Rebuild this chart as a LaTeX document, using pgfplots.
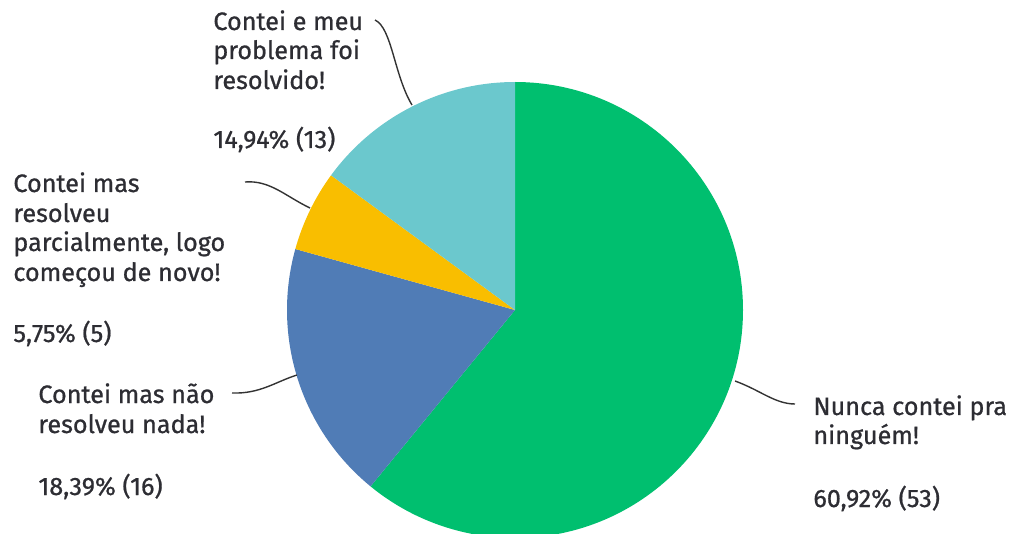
\documentclass[border=0pt]{standalone}
\usepackage{pgfplots}
\usepackage{pgfplotstable}
\pgfplotsset{compat=1.18}
\usepackage{fontspec}
\setmainfont{Fira Sans}[BoldFont={Fira Sans}, BoldFeatures={FakeBold=0.8}]

\definecolor{pgreen}{HTML}{00BF6F}
\definecolor{pblue}{HTML}{507CB6}
\definecolor{pyellow}{HTML}{F9BE00}
\definecolor{pteal}{HTML}{6BC8CD}
\definecolor{lead}{HTML}{333333}
\definecolor{txt}{HTML}{2D2D33}

% share of answers (%), count
\pgfplotstableread{
value count
60.92 53
18.39 16
5.75  5
14.94 13
}\piedata

\begin{document}
\begin{tikzpicture}
\pgfplotstablegetelem{0}{value}\of\piedata \let\vA\pgfplotsretval
\pgfplotstablegetelem{1}{value}\of\piedata \let\vB\pgfplotsretval
\pgfplotstablegetelem{2}{value}\of\piedata \let\vC\pgfplotsretval
\pgfplotstablegetelem{3}{value}\of\piedata \let\vD\pgfplotsretval
\pgfmathsetmacro\aA{90-3.6*\vA}
\pgfmathsetmacro\aB{\aA-3.6*\vB}
\pgfmathsetmacro\aC{\aB-3.6*\vC}
\pgfmathsetmacro\aD{\aC-3.6*\vD}
\def\R{114pt}
\newcommand\lbl[3]{\node[anchor=base west,inner sep=0pt,text=txt,font=\fontsize{12.6}{15}\selectfont\bfseries] at (axis cs:#1,#2) {#3};}
\begin{axis}[
    width=509pt, height=267pt, scale only axis,
    xmin=0, xmax=1018, ymin=0, ymax=534, y dir=reverse,
    hide axis, clip=true,
]
\coordinate (bl) at (axis cs:0,534);
\coordinate (tr) at (axis cs:1018,0);
% slices, clockwise from the top
\fill[pgreen]  (axis cs:515,310) -- ++(90:\R) arc[start angle=90, end angle=\aA, radius=\R] -- cycle;
\fill[pblue]   (axis cs:515,310) -- ++(\aA:\R) arc[start angle=\aA, end angle=\aB, radius=\R] -- cycle;
\fill[pyellow] (axis cs:515,310) -- ++(\aB:\R) arc[start angle=\aB, end angle=\aC, radius=\R] -- cycle;
\fill[pteal]   (axis cs:515,310) -- ++(\aC:\R) arc[start angle=\aC, end angle=\aD, radius=\R] -- cycle;
% leader lines
\draw[lead, line width=0.7pt] (axis cs:375,20) .. controls (axis cs:392,28) and (axis cs:394,75) .. (axis cs:412,105);
\draw[lead, line width=0.7pt] (axis cs:245,182) .. controls (axis cs:270,180) and (axis cs:285,196) .. (axis cs:310,208);
\draw[lead, line width=0.7pt] (axis cs:232,393) .. controls (axis cs:260,394) and (axis cs:275,382) .. (axis cs:297,375);
\draw[lead, line width=0.7pt] (axis cs:735,381) .. controls (axis cs:760,390) and (axis cs:775,404) .. (axis cs:795,404);
% labels
\lbl{213}{30}{Contei e meu}
\lbl{213}{59}{problema foi}
\lbl{213}{89}{resolvido!}
\lbl{213}{148}{14,94\% (13)}
\lbl{13}{192}{Contei mas}
\lbl{13}{222}{resolveu}
\lbl{13}{251}{parcialmente, logo}
\lbl{13}{281}{começou de novo!}
\lbl{13}{342}{5,75\% (5)}
\lbl{38}{403}{Contei mas não}
\lbl{38}{433}{resolveu nada!}
\lbl{38}{495}{18,39\% (16)}
\lbl{813}{415}{Nunca contei pra}
\lbl{813}{444}{ninguém!}
\lbl{813}{507}{60,92\% (53)}
\end{axis}
\pgfresetboundingbox
\useasboundingbox (bl) rectangle (tr);
\end{tikzpicture}
\end{document}
